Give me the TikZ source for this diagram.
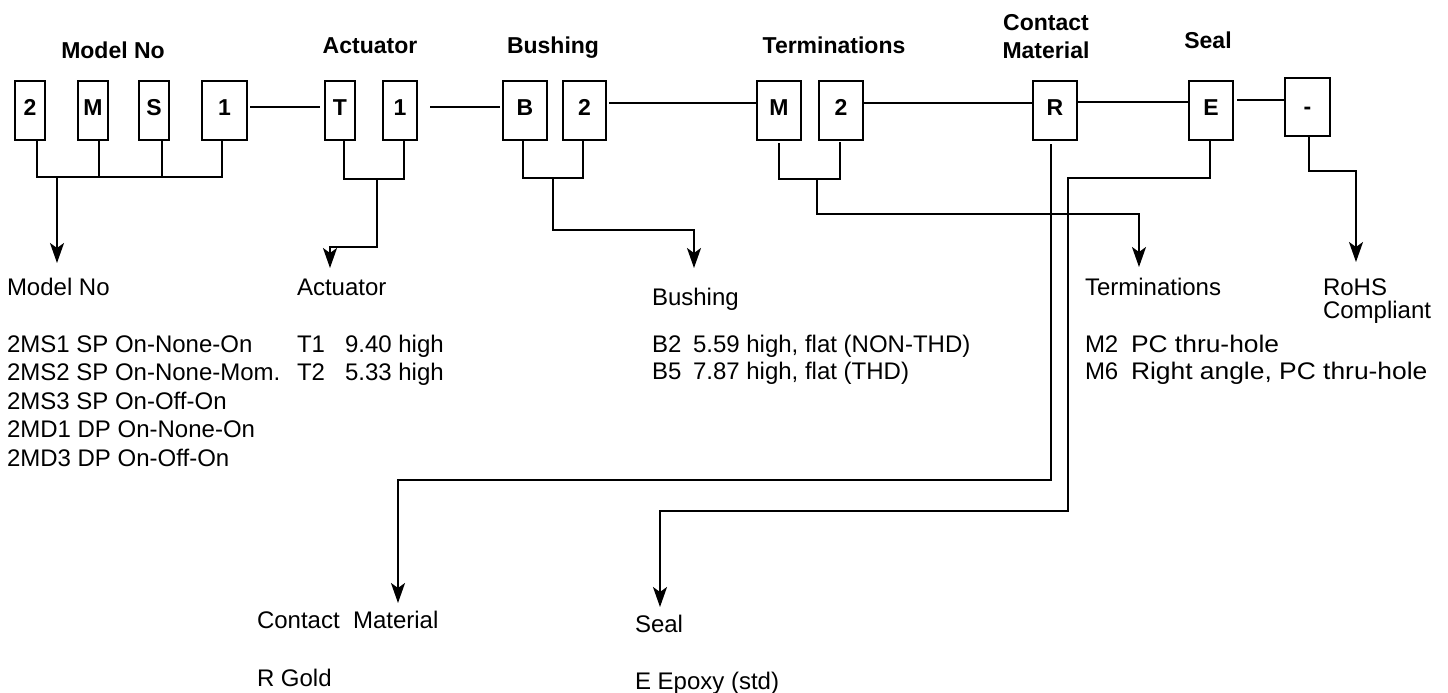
\documentclass[tikz,border=0pt]{standalone}
\usepackage{fontspec}
\setmainfont{Liberation Sans}
\usetikzlibrary{arrows.meta}
\begin{document}
\begin{tikzpicture}[x=0.5pt,y=-0.5pt,
  every node/.style={inner sep=0pt, outer sep=0pt},
  cbox/.style={draw, line width=1pt, minimum height=29.5pt, text height=8pt, text depth=3.5pt, font=\fontsize{11.5}{13}\selectfont\bfseries},
  head/.style={font=\fontsize{11.5}{13}\selectfont\bfseries, anchor=base},
  lab/.style={font=\fontsize{12}{14}\selectfont, anchor=base west},
  wire/.style={line width=1pt},
  arr/.style={wire, -{Stealth[length=10pt,width=7pt,inset=2.5pt]}}]
\useasboundingbox (0,0) rectangle (1448,692);

% code boxes
\node[cbox, minimum width=15pt]   (m1) at (30,110.5)   {2};
\node[cbox, minimum width=15pt]   (m2) at (93,110.5)   {M};
\node[cbox, minimum width=15pt]   (m3) at (154,110.5)  {S};
\node[cbox, minimum width=22.5pt] (m4) at (224.5,110.5){1};
\node[cbox, minimum width=15pt]   (a1) at (340,110.5)  {T};
\node[cbox, minimum width=17pt]   (a2) at (400,110.5)  {1};
\node[cbox, minimum width=22pt]   (b1) at (525,110.5)  {B};
\node[cbox, minimum width=21.5pt] (b2) at (584.5,110.5){2};
\node[cbox, minimum width=22pt]   (t1) at (779,110.5)  {M};
\node[cbox, minimum width=22pt]   (t2) at (841,110.5)  {2};
\node[cbox, minimum width=22pt]   (r)  at (1055,110.5) {R};
\node[cbox, minimum width=22pt]   (e)  at (1211,110.5) {E};
\node[cbox, minimum width=22.5pt, minimum height=29pt, text height=7pt, text depth=0pt] (d) at (1307.5,107) {-};

% headers
\node[head] (hm) at (113,58) {Model No};
\node[head] (ha) at (370,53) {Actuator};
\node[head] (hb) at (553,53) {Bushing};
\node[head] (ht) at (834,53) {Terminations};
\node[head] (hc1) at (1046,30) {Contact};
\node[head] (hc2) at (1046,58) {Material};
\node[head] (hs) at (1208,48) {Seal};

% chain connectors
\draw[wire, shorten <=1.5pt, shorten >=2.5pt] ([yshift=1.75pt]m4.east) -- ([yshift=1.75pt]a1.west);
\draw[wire, shorten <=6.5pt, shorten >=1.5pt] ([yshift=1.75pt]a2.east) -- ([yshift=1.75pt]b1.west);
\draw[wire, shorten <=1.5pt] ([yshift=3.75pt]b2.east) -- ([yshift=3.75pt]t1.west);
\draw[wire] ([yshift=3.75pt]t2.east) -- ([yshift=3.75pt]r.west);
\draw[wire] ([yshift=4.25pt]r.east) -- ([yshift=4.25pt]e.west);
\draw[wire, shorten <=2pt] ([yshift=5.25pt]e.east) -- ([yshift=3.5pt]d.west);

% Model No bracket
\coordinate (mj) at (57,177);
\coordinate (mt) at (57,263);
\draw[wire] (m1.south -| 37,0) -- (37,177) -- (222,177) -- (m4.south -| 222,0);
\draw[wire] (m2.south -| 99,0) -- (99,177);
\draw[wire] (m3.south -| 162,0) -- (162,177);
\draw[arr] (mj) -- (mt);

% Actuator bracket
\coordinate (aj) at (377,179);
\coordinate (at) at (330,268);
\draw[wire] (a1.south -| 344,0) -- (344,179) -- (404,179) -- (a2.south -| 404,0);
\draw[arr] (aj) -- (377,247) -| (at);

% Bushing bracket
\coordinate (bj) at (553,178);
\coordinate (bt) at (694,268);
\draw[wire] (b1.south -| 523,0) -- (523,178) -- (583,178) -- (b2.south -| 583,0);
\draw[arr] (bj) -- (553,230) -| (bt);

% Terminations bracket
\coordinate (tj) at (817,179);
\coordinate (tt) at (1139,267);
\draw[wire] ([yshift=-1.5pt]t1.south -| 779,0) -- (779,179) -- (840,179) -- ([yshift=-1pt]t2.south -| 840,0);
\draw[arr] (tj) -- (817,214) -| (tt);

% Contact material
\coordinate (ct) at (398,603);
\draw[arr] ([yshift=-2pt]r.south -| 1051,0) -- (1051,480) -| (ct);

% Seal
\coordinate (st) at (660,607);
\draw[arr] (e.south -| 1210,0) -- (1210,178) -- (1068,178) -- (1068,511) -| (st);

% RoHS
\coordinate (rt) at (1356,262);
\draw[arr] (d.south -| 1309,0) -- (1309,171) -| (rt);

% lower labels
\node[lab] (lm) at (7,295) {Model No};
\node[lab] (la) at (297,295) {Actuator};
\node[lab] (lb) at (652,305) {Bushing};
\node[lab] (lt) at (1085,295) {Terminations};
\node[lab] (lr1) at (1323,295) {RoHS};
\node[lab] (lr2) at (1323,318) {Compliant};

\node[lab] (dm1) at (7,352) {2MS1 SP On-None-On};
\node[lab] (dm2) at (7,380) {2MS2 SP On-None-Mom.};
\node[lab] (dm3) at (7,409) {2MS3 SP On-Off-On};
\node[lab] (dm4) at (7,437) {2MD1 DP On-None-On};
\node[lab] (dm5) at (7,466) {2MD3 DP On-Off-On};

\node[lab] (da1) at (297,352) {T1};
\node[lab] (da1b) at (345,352) {9.40 high};
\node[lab] (da2) at (297,380) {T2};
\node[lab] (da2b) at (345,380) {5.33 high};

\node[lab] (db1) at (652,352) {B2};
\node[lab] (db1b) at (693,352) {5.59 high, flat (NON-THD)};
\node[lab] (db2) at (652,379) {B5};
\node[lab] (db2b) at (693,379) {7.87 high, flat (THD)};

\node[lab] (dt1) at (1085,352) {M2};
\node[lab] (dt1b) at (1131,352) {\scalebox{1.1}[1]{PC thru-hole}};
\node[lab] (dt2) at (1085,379) {M6};
\node[lab] (dt2b) at (1131,379) {\scalebox{1.1}[1]{Right angle, PC thru-hole}};

\node[lab] (lc) at (257,628) {Contact\ \ Material};
\node[lab] (dc) at (257,686) {R Gold};
\node[lab] (ls) at (635,632) {Seal};
\node[lab] (ds) at (635,689) {E Epoxy (std)};
\end{tikzpicture}
\end{document}
